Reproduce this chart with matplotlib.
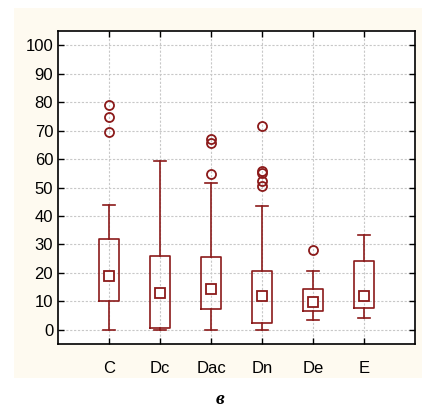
import numpy as np
import matplotlib
matplotlib.use("Agg")
import matplotlib.pyplot as plt
from matplotlib.patches import Rectangle

matplotlib.rcParams['font.family'] = ['Liberation Sans', 'DejaVu Sans']

GROUPS = ["C", "Dc", "Dac", "Dn", "De", "E"]
CENTER = [18.9, 12.8, 14.3, 11.7, 9.7, 11.7]
Q1 = [10.0, 0.7, 7.3, 2.5, 6.7, 7.8]
Q3 = [31.9, 25.9, 25.5, 20.7, 14.2, 24.2]
WHIS_LO = [0.0, 0.0, 0.0, 0.0, 3.3, 4.0]
WHIS_HI = [43.7, 59.4, 51.7, 43.4, 20.8, 33.3]
OUTLIERS = [
    [79.0, 74.8, 69.5],
    [],
    [67.2, 65.6, 54.6],
    [71.7, 55.8, 55.2, 52.3, 50.7],
    [28.2],
    [],
]

RED = "#8b1a1a"

fig = plt.figure(figsize=(4.23, 4.08), dpi=100)
fig.patch.set_facecolor("white")
fig.patches.append(Rectangle((14 / 423, 1 - 378 / 408), 408 / 423, 370 / 408,
                             transform=fig.transFigure, facecolor="#fefaf0",
                             edgecolor="none", zorder=-10))

ax = fig.add_axes([58 / 423, 64 / 408, 357 / 423, 313 / 408])
ax.set_zorder(1)
ax.set_facecolor("white")

stats = []
for i in range(len(GROUPS)):
    stats.append(dict(med=CENTER[i], mean=CENTER[i], q1=Q1[i], q3=Q3[i],
                      whislo=WHIS_LO[i], whishi=WHIS_HI[i],
                      fliers=OUTLIERS[i], label=GROUPS[i]))

ax.bxp(stats, positions=np.arange(1, len(GROUPS) + 1), widths=0.4,
       showmeans=True, patch_artist=False,
       boxprops=dict(color=RED, linewidth=1.2),
       whiskerprops=dict(color=RED, linewidth=1.2),
       capprops=dict(color=RED, linewidth=1.2),
       capwidths=0.22,
       medianprops=dict(linewidth=0),
       meanprops=dict(marker="s", markersize=6.5, markerfacecolor="white",
                      markeredgecolor=RED, markeredgewidth=1.3),
       flierprops=dict(marker="o", markersize=6.5, markerfacecolor="none",
                       markeredgecolor=RED, markeredgewidth=1.3))

ax.set_xlim(0, 7)
ax.set_ylim(-5, 105)
ax.set_yticks(np.arange(0, 101, 10))
ax.set_xticks(np.arange(1, len(GROUPS) + 1))
ax.set_xticklabels(GROUPS)
ax.tick_params(direction="in", top=True, right=True, labelsize=12,
               length=4, width=1, colors="black")
ax.tick_params(axis="x", pad=12)
ax.grid(True, color="#c8c8c8", linestyle=(0, (2, 1.5)), linewidth=0.8)
ax.set_axisbelow(True)
for s in ax.spines.values():
    s.set_linewidth(1.2)

fig.text(220 / 423, 1 - 399 / 408, "в", ha="center", va="center",
         fontsize=14, fontstyle="italic", fontweight="bold",
         family=["Liberation Serif", "DejaVu Serif"])

fig.savefig("out.png", dpi=100)
